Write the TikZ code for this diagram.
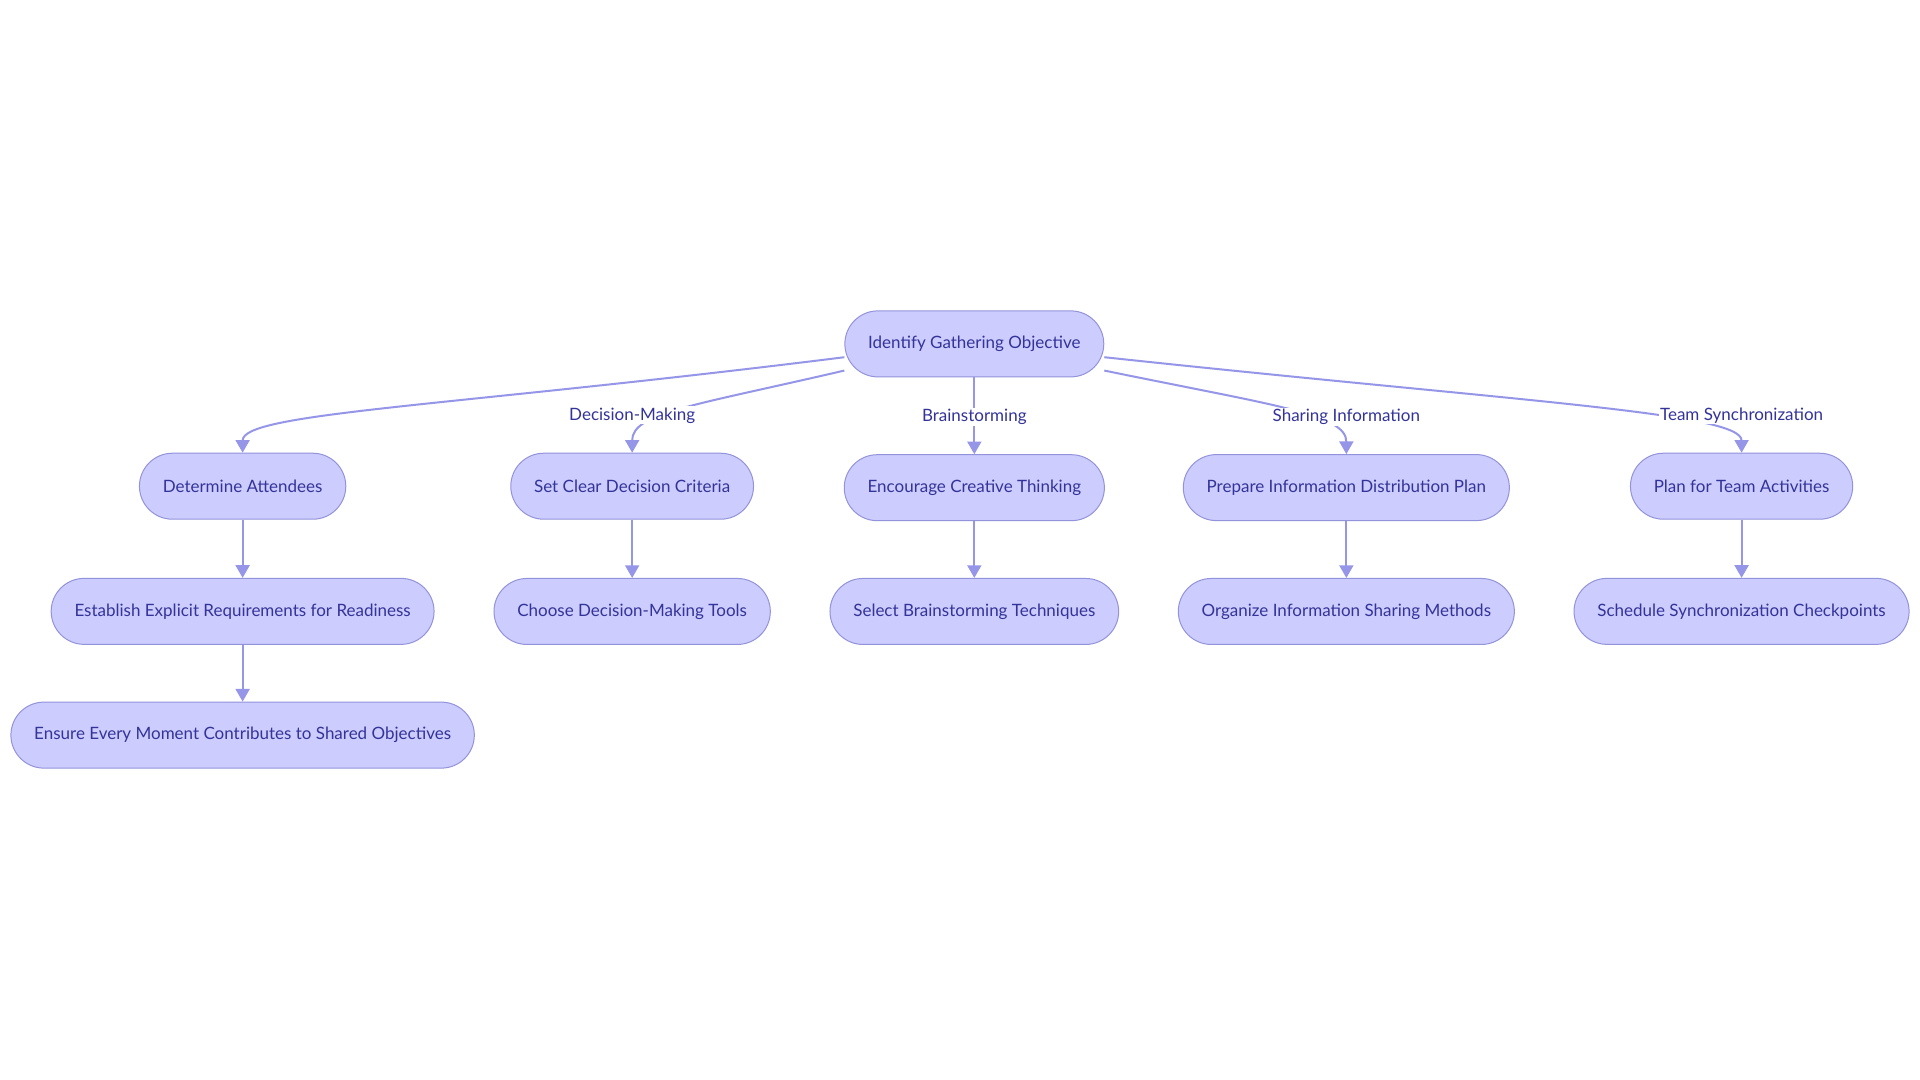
\documentclass[tikz,border=0pt]{standalone}
\usepackage{fontspec}
\setmainfont{Lato}
\usetikzlibrary{matrix, positioning, arrows.meta}

\definecolor{boxfill}{RGB}{204,204,255}
\definecolor{boxline}{RGB}{147,147,219}
\definecolor{boxtext}{RGB}{51,51,153}
\definecolor{linkcol}{RGB}{150,150,232}

\tikzset{
  box/.style={draw=boxline, fill=boxfill, line width=0.75pt, rounded corners=24.75pt,
    minimum height=49.5pt, inner xsep=17.5pt, text=boxtext, font=\fontsize{12.75}{15}\selectfont},
  lbl/.style={fill=white, inner sep=1pt, text=boxtext, font=\fontsize{12.75}{15}\selectfont},
  flow/.style={color=linkcol, line width=1.5pt, -{Triangle[length=9.5pt,width=10.5pt]}},
}

\begin{document}
\begin{tikzpicture}[x=0.75pt, y=-0.75pt]
    \useasboundingbox[fill=white] (0,0) rectangle (1920,1080);
    \matrix (m) [matrix of nodes, nodes={box}, row sep=42.5pt, column sep=44pt] at (960,539.5)
    {
        &[-30pt] & Identify Gathering Objective & & \\[14pt]
        Determine Attendees &[-30pt] Set Clear Decision Criteria & Encourage Creative Thinking & Prepare Information Distribution Plan & Plan for Team Activities \\
        Establish Explicit Requirements for Readiness &[-30pt] Choose Decision-Making Tools & Select Brainstorming Techniques & Organize Information Sharing Methods & Schedule Synchronization Checkpoints \\
        Ensure Every Moment Contributes to Shared Objectives &[-30pt] & & & \\
    };
    % from the objective down to the five branches
    \draw[flow] ([yshift=-10pt]m-1-3.west) .. controls +(-400,50) and +(0,-40) .. (m-2-1.north);
    \draw[flow] ([yshift=-20pt]m-1-3.west) .. controls +(-150,35) and +(0,-40) .. (m-2-2.north);
    \draw[flow] ([yshift=-20pt]m-1-3.east) .. controls +(170,35) and +(0,-40) .. (m-2-4.north);
    \draw[flow] ([yshift=-10pt]m-1-3.east) .. controls +(420,45) and +(0,-40) .. (m-2-5.north);
    \path[flow]
    (m-1-3) edge (m-2-3)
    (m-2-1) edge (m-3-1)
    (m-3-1) edge (m-4-1)
    (m-2-2) edge (m-3-2)
    (m-2-3) edge (m-3-3)
    (m-2-4) edge (m-3-4)
    (m-2-5) edge (m-3-5);
    \node[lbl, above=21pt of m-2-2] (dm) {Decision-Making};
    \node[lbl, above=21pt of m-2-3] (bs) {Brainstorming};
    \node[lbl, above=21pt of m-2-4] (si) {Sharing Information};
    \node[lbl, above=21pt of m-2-5] (ts) {Team Synchronization};
\end{tikzpicture}
\end{document}
